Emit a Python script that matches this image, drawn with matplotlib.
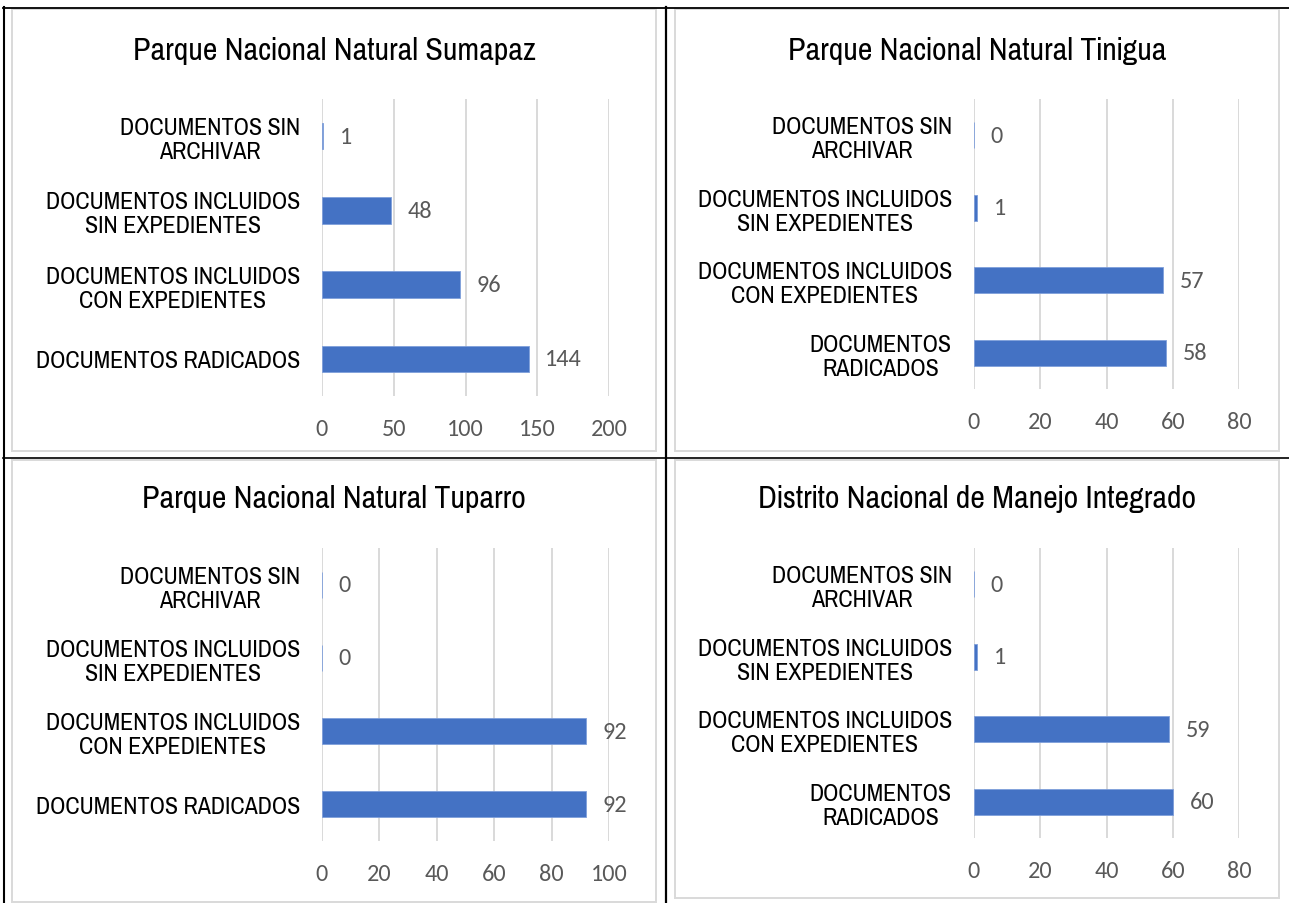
import matplotlib
matplotlib.use('Agg')
import matplotlib.pyplot as plt
from matplotlib.lines import Line2D
from matplotlib.patches import Rectangle

W, H = 1289, 904
fig = plt.figure(figsize=(W / 100, H / 100), dpi=100)

LABEL_FONT = ['Liberation Sans Narrow', 'Arial Narrow', 'Pragati Narrow', 'Archivo Narrow',
              'DejaVu Sans']
NUM_FONT = ['Carlito', 'Lato', 'DejaVu Sans']

# ---- data ----
titles = ['Parque Nacional Natural Sumapaz', 'Parque Nacional Natural Tinigua',
          'Parque Nacional Natural Tuparro', 'Distrito Nacional de Manejo Integrado']
labels_a = ['DOCUMENTOS RADICADOS', 'DOCUMENTOS INCLUIDOS\nCON EXPEDIENTES',
            'DOCUMENTOS INCLUIDOS\nSIN EXPEDIENTES', 'DOCUMENTOS SIN\nARCHIVAR']
labels_b = ['DOCUMENTOS\nRADICADOS', 'DOCUMENTOS INCLUIDOS\nCON EXPEDIENTES',
            'DOCUMENTOS INCLUIDOS\nSIN EXPEDIENTES', 'DOCUMENTOS SIN\nARCHIVAR']
sumapaz = [144, 96, 48, 1]
tinigua = [58, 57, 1, 0]
tuparro = [92, 92, 0, 0]
dnmi = [60, 59, 1, 0]
x_max = [200, 80, 100, 80]
x_step = [50, 20, 20, 20]

series = [sumapaz, tinigua, tuparro, dnmi]
cat_labels = [labels_a, labels_b, labels_a, labels_b]

# layout in pixels: chart box, plot area, title y
boxes = [(12, 10, 656, 452), (675, 10, 1279, 452), (12, 461, 656, 903), (675, 461, 1279, 899)]
plots = [(322, 100, 609, 397), (974, 100, 1239, 390), (322, 549, 609, 842), (974, 549, 1239, 839)]
title_y = [51, 51, 499, 499]


def fx(x):
    return x / W


def fy(y):
    return 1 - y / H


for i in range(4):
    bx0, by0, bx1, by1 = boxes[i]
    fig.add_artist(Rectangle((fx(bx0), fy(by1)), fx(bx1 - bx0), (by1 - by0) / H,
                             transform=fig.transFigure, fill=False,
                             edgecolor='#D9D9D9', lw=1.4))
    fig.text(fx((bx0 + bx1) / 2), fy(title_y[i]), titles[i], ha='center', va='center',
             fontsize=25, family=LABEL_FONT, color='black')

    px0, py0, px1, py1 = plots[i]
    ax = fig.add_axes([fx(px0), fy(py1), fx(px1 - px0), (py1 - py0) / H])
    ypos = list(range(len(series[i])))
    ax.barh(ypos, series[i], height=0.355, color='#4472C4', edgecolor='#7F9FDA', lw=0.6,
            zorder=3)
    ax.set_xlim(0, x_max[i])
    ax.set_ylim(-0.5, len(series[i]) - 0.5)
    ax.set_xticks(list(range(0, x_max[i] + 1, x_step[i])))
    ax.set_yticks(ypos)
    ax.set_yticklabels(cat_labels[i], fontsize=18.8, family=LABEL_FONT, color='black',
                       linespacing=1.17)
    for t in ax.get_yticklabels():
        t.set_multialignment('center')
    for t in ax.get_xticklabels():
        t.set_fontfamily(NUM_FONT)
        t.set_fontsize(17.5)
        t.set_color('#595959')
    ax.tick_params(axis='both', length=0)
    ax.tick_params(axis='x', pad=15.5)
    ax.tick_params(axis='y', pad=16)
    ax.grid(axis='x', color='#D9D9D9', lw=1.4, zorder=0)
    for s in ax.spines.values():
        s.set_visible(False)
    ax.patch.set_alpha(0)
    for y, v in zip(ypos, series[i]):
        ax.annotate(str(v), (v, y), xytext=(12, 0), textcoords='offset points',
                    ha='left', va='center', fontsize=17.5, family=NUM_FONT, color='#595959')

# table lines
table_lines = [
    ((3, 8.5), (1289, 8.5), 1.3),
    ((4, 8), (4, 904), 1.5),
    ((666, 8), (666, 904), 1.6),
    ((3, 459), (1289, 459), 1.2),
]
for (x0, y0), (x1, y1), lw in table_lines:
    fig.add_artist(Line2D([fx(x0), fx(x1)], [fy(y0), fy(y1)], transform=fig.transFigure,
                          color='black', lw=lw))

fig.savefig('out.png', dpi=100, facecolor='white')
